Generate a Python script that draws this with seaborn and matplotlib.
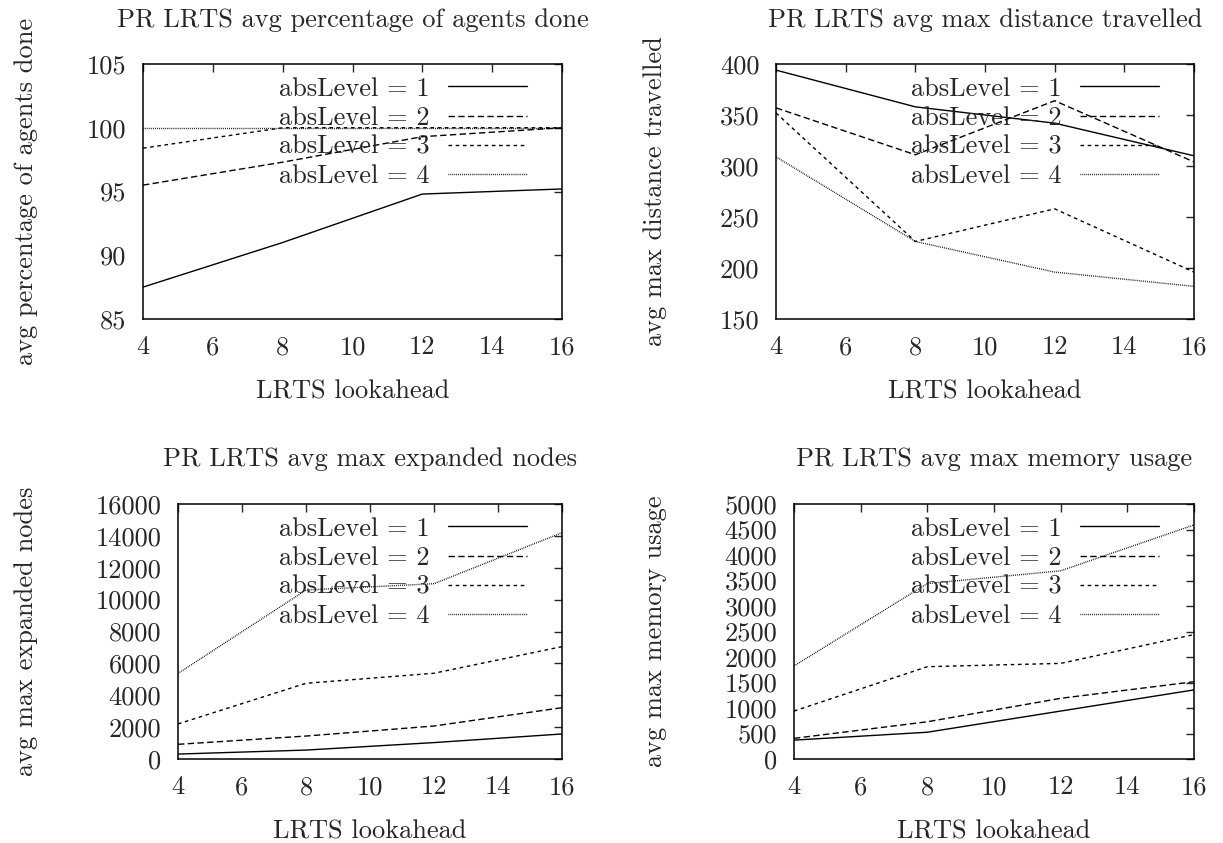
import matplotlib
matplotlib.use('Agg')
import matplotlib.pyplot as plt
import matplotlib.transforms as mtransforms
import pandas as pd
import seaborn as sns

# données
lookahead = [4, 8, 12, 16]
abs_levels = [1, 2, 3, 4]

pct_done = [
    [87.5, 91.0, 94.8, 95.2],
    [95.5, 97.3, 99.3, 100.0],
    [98.4, 100.0, 100.0, 100.0],
    [100.0, 100.0, 100.0, 100.0],
]
max_distance = [
    [394, 358, 342, 310],
    [357, 311, 364, 304],
    [352, 226, 258, 196],
    [309, 226, 196, 182],
]
max_expanded = [
    [310, 560, 1030, 1570],
    [920, 1440, 2070, 3220],
    [2200, 4750, 5380, 7050],
    [5370, 10600, 11000, 14200],
]
max_memory = [
    [370, 525, 940, 1355],
    [405, 730, 1190, 1515],
    [940, 1810, 1875, 2440],
    [1825, 3440, 3690, 4590],
]

titles = ['PR LRTS avg percentage of agents done', 'PR LRTS avg max distance travelled',
          'PR LRTS avg max expanded nodes', 'PR LRTS avg max memory usage']
ylabels = ['avg percentage of agents done', 'avg max distance travelled',
           'avg max expanded nodes', 'avg max memory usage']
xlabel = 'LRTS lookahead'

sns.set_style('white')
plt.rcParams['font.family'] = ['cmr10', 'DejaVu Serif']
plt.rcParams['axes.unicode_minus'] = False
FS = 19

fig = plt.figure(figsize=(12.23, 8.43), dpi=100)
W, H = 1223, 843

# rectangles des axes en pixels (gauche, haut, droite, bas)
boxes = [(143, 64, 562, 319), (776, 64, 1194, 319),
         (178, 504, 562, 759), (794, 504, 1194, 759)]
ylab_px = [38, 667, 38, 667]
ylims = [(85, 105, 5), (150, 400, 50), (0, 16000, 2000), (0, 5000, 500)]
panel_data = [pct_done, max_distance, max_expanded, max_memory]

dash_styles = {1: '-', 2: (0, (4.6, 2.4)), 3: (0, (2.6, 2.6)), 4: (0, (0.6, 0.8))}

for i in range(4):
    l, t, r, b = boxes[i]
    ax = fig.add_axes([l / W, (H - b) / H, (r - l) / W, (b - t) / H])
    for lvl, vals in zip(abs_levels, panel_data[i]):
        df = pd.DataFrame({'lookahead': lookahead, 'value': vals})
        sns.lineplot(data=df, x='lookahead', y='value', ax=ax, color='black',
                     linewidth=1.0, linestyle=dash_styles[lvl],
                     label=f'absLevel = {lvl}')
    lo, hi, step = ylims[i]
    ax.set_xlim(4, 16)
    ax.set_ylim(lo, hi)
    ax.set_xticks(range(4, 17, 2))
    ax.set_yticks(range(lo, hi + 1, step))
    ax.tick_params(direction='in', top=True, right=True, length=6, width=1,
                   labelsize=FS, pad=12)
    for sp in ax.spines.values():
        sp.set_linewidth(1.1)
        sp.set_color('black')
    ax.set_title(titles[i], fontsize=FS, pad=27)
    ax.set_xlabel(xlabel, fontsize=FS, labelpad=15)
    ax.set_ylabel(ylabels[i], fontsize=FS)
    ax.yaxis.set_label_coords((ylab_px[i] - l) / (r - l), 0.5)

    off = mtransforms.ScaledTranslation(-0.35, -0.13, fig.dpi_scale_trans)
    ax.legend(loc='upper right', bbox_to_anchor=(1, 1),
              bbox_transform=ax.transAxes + off, frameon=False,
              markerfirst=False, fontsize=FS, handlelength=3.0,
              handletextpad=0.7, labelspacing=0.2, borderpad=0,
              borderaxespad=0)

fig.savefig('out.png', dpi=100)
